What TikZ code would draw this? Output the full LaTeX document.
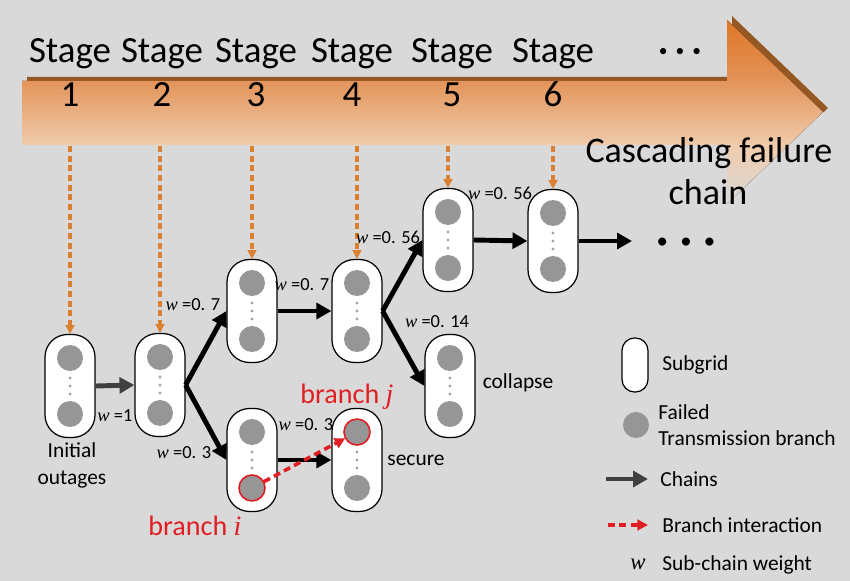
\documentclass[tikz,border=0pt]{standalone}
\usepackage{fontspec}
\setmainfont{Carlito}
\newfontfamily\wfont{Liberation Serif}
\usetikzlibrary{arrows.meta}

\definecolor{bg}{RGB}{217,217,217}
\definecolor{orangetop}{RGB}{222,118,38}
\definecolor{orangemid}{RGB}{227,148,90}
\definecolor{peach}{RGB}{240,204,172}
\definecolor{shadowbrown}{RGB}{150,88,35}
\definecolor{feedorange}{RGB}{218,128,48}
\definecolor{failgray}{RGB}{150,150,150}
\definecolor{dotgray}{RGB}{165,165,165}
\definecolor{linkred}{RGB}{225,30,35}
\definecolor{chaingray}{RGB}{64,64,64}

% weight label: italic w followed by its value
\newcommand{\wlab}[1]{{\wfont\itshape w} =#1}
% one subgrid with its two failed branches and the dots between them
\newcommand{\subgridnode}[2]{%
  \node[subgrid] (#1) at (#2) {};
  \node[failed] (#1-t) at ([yshift=0.56cm]#1.center) {};
  \node[failed] (#1-b) at ([yshift=-0.56cm]#1.center) {};
  \foreach \dy in {-0.16,0,0.16}
    \fill[dotgray] ([yshift=\dy cm]#1.center) circle (0.032cm);
}

\begin{document}
\begin{tikzpicture}[x=0.02cm, y=-0.02cm,
  subgrid/.style={draw=black, line width=0.7pt, fill=white, rounded corners=0.45cm,
    minimum width=1cm, minimum height=2.06cm, inner sep=0pt},
  failed/.style={circle, fill=failgray, minimum size=0.52cm, inner sep=0pt},
  chain/.style={line width=2.8pt, -{Triangle[length=8.5pt,width=9pt]}},
  feed/.style={feedorange, line width=1.8pt, dash pattern=on 3.5pt off 2pt,
    -{Triangle[length=5pt,width=5pt]}},
  interact/.style={linkred, line width=2pt, dash pattern=on 4pt off 2.5pt,
    -{Triangle[length=6pt,width=6pt]}},
  weight/.style={font=\fontsize{10.5}{12}\selectfont, inner sep=0pt},
  stagelab/.style={font=\fontsize{21}{25}\selectfont, anchor=base, inner sep=0pt},
  note/.style={font=\fontsize{12.2}{15.3}\selectfont, align=center, inner sep=0pt},
  keytext/.style={font=\fontsize{12.2}{14.7}\selectfont, align=left, anchor=west, inner sep=0pt},
  redtag/.style={linkred, font=\fontsize{16}{19}\selectfont, anchor=base, inner sep=0pt}]

  % ==========================================
  % BACKGROUND AND STAGE ARROW
  % ==========================================
  \fill[bg] (0,0) rectangle (850,581);
  \useasboundingbox (0,0) rectangle (850,581);

  % shadow of the arrow (upper edges only)
  \begin{scope}
    \clip (0,0) rectangle (850,112);
    \fill[shadowbrown, shift={(5,-4)}] (22,81) -- (727,81) -- (727,20) -- (823,112)
      -- (727,204) -- (727,145) -- (22,145) -- cycle;
  \end{scope}

  % arrow body, fading out at the bottom
  \begin{scope}
    \clip (22,81) -- (727,81) -- (727,20) -- (823,112) -- (727,204) -- (727,145)
      -- (22,145) -- cycle;
    \fill[top color=orangetop, bottom color=orangemid] (0,19) rectangle (850,82);
    \fill[top color=orangemid, bottom color=peach] (0,81) rectangle (850,146);
    \fill[top color=peach, bottom color=bg] (0,145) rectangle (850,205);
  \end{scope}

  \foreach \sx [count=\k] in {70,162,256,352,452,553} {
    \node[stagelab] (stage\k) at (\sx,63) {Stage};
    \node[stagelab] (num\k) at (\sx,107) {\k};
  }
  \node[font=\fontsize{10}{12}\selectfont] (moredots) at (680,52) {•\hspace{4.5pt}•\hspace{4.5pt}•};

  \node[font=\fontsize{20.5}{24.5}\selectfont, anchor=base, inner sep=0pt] (casc) at (709,163)
    {Cascading failure};
  \node[font=\fontsize{20.5}{24.5}\selectfont, anchor=base, inner sep=0pt] (cascb) at (708,205)
    {chain};

  % ==========================================
  % SUBGRIDS OF THE CHAIN
  % ==========================================
  \subgridnode{n1}{70,386}
  \subgridnode{n2}{160,385}
  \subgridnode{n3u}{252,311}
  \subgridnode{n3l}{252,460}
  \subgridnode{n4u}{357,311}
  \subgridnode{n4l}{357,460}
  \subgridnode{nc}{450,386}
  \subgridnode{n5}{448,240}
  \subgridnode{n6}{553,241}

  % interacting branches i and j
  \draw[linkred, line width=0.9pt] (n3l-b) circle (0.26cm);
  \draw[linkred, line width=0.9pt] (n4l-t) circle (0.26cm);

  % stages feeding the subgrids
  \coordinate (band) at (0,146);
  \foreach \s in {n1,n2,n3u,n4u,n5,n6}
    \draw[feed] (\s |- band) -- (\s.north);

  % chains
  \coordinate (tailend) at (632,241);
  \draw[chain, chaingray] (n1.east) -- (n2.west);
  \draw[chain] (n2.east) -- (n3u.west);
  \draw[chain] (n2.east) -- (n3l.west);
  \draw[chain] (n3u.east) -- (n4u.west);
  \draw[chain] (n3l.east) -- (n4l.west);
  \draw[chain] (n4u.east) -- (n5.west);
  \draw[chain] (n4u.east) -- (nc.west);
  \draw[chain] (n5.east) -- (n6.west);
  \draw[chain] (n6.east) -- (tailend);
  \node[font=\fontsize{13}{15}\selectfont] (taildots) at (686,243) {•\hspace{7pt}•\hspace{7pt}•};

  \draw[interact] (n3l-b) -- (n4l-t);

  % weights
  \node[weight] (w1) at (115,416) {\wlab{1}};
  \node[weight] (w2) at (184,453) {\wlab{0. 3}};
  \node[weight] (w3) at (193,305) {\wlab{0. 7}};
  \node[weight] (w4) at (302,285) {\wlab{0. 7}};
  \node[weight] (w5) at (388,237) {\wlab{0. 56}};
  \node[weight] (w6) at (437,322) {\wlab{0. 14}};
  \node[weight] (w7) at (500,193) {\wlab{0. 56}};
  \node[weight] (w8) at (306,425) {\wlab{0. 3}};

  % captions
  \node[note] (initial) at (72,465) {Initial\\outages};
  \node[note] (secure) at (416,460) {secure};
  \node[note] (collapse) at (518,383) {collapse};
  \node[redtag] (bj) at (347,403) {branch {\wfont\itshape j}};
  \node[redtag] (bi) at (195,536) {branch {\wfont\itshape i}};

  % ==========================================
  % LEGEND
  % ==========================================
  \node[subgrid, minimum width=0.52cm, minimum height=1.08cm, rounded corners=0.25cm]
    (keysub) at (635,365) {};
  \node[keytext] (keysubt) at (662,365) {Subgrid};
  \node[failed] (keyfail) at (636,425) {};
  \node[keytext] (keyfailt) at (658,425) {Failed\\Transmission branch};
  \coordinate (keychaina) at (606,479);
  \coordinate (keychainb) at (648,479);
  \draw[chain, chaingray] (keychaina) -- (keychainb);
  \node[keytext] (keychaint) at (660,479) {Chains};
  \coordinate (keyinta) at (608,525);
  \coordinate (keyintb) at (648,525);
  \draw[interact] (keyinta) -- (keyintb);
  \node[keytext] (keyintt) at (662,525) {Branch interaction};
  \node[font=\fontsize{13}{15}\selectfont\wfont\itshape] (keyw) at (638,564) {w};
  \node[keytext] (keywt) at (662,565) {Sub-chain weight};

\end{tikzpicture}
\end{document}
